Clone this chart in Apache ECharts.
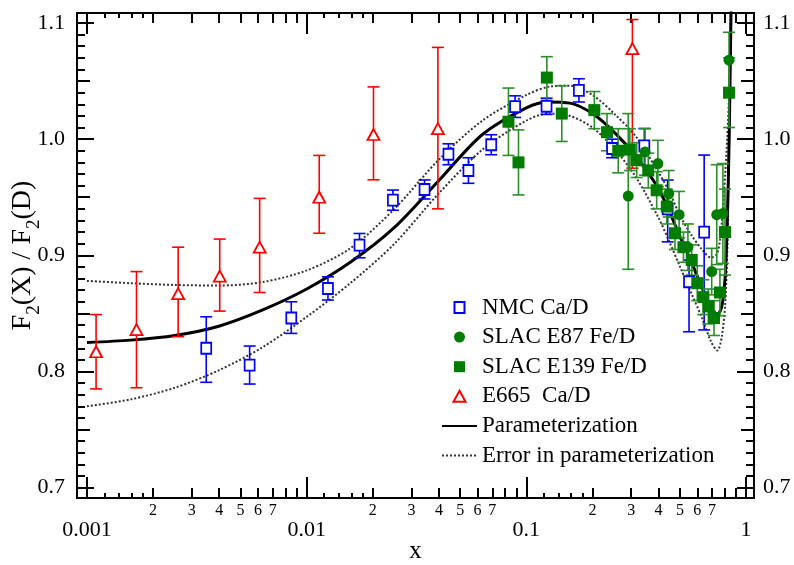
<!DOCTYPE html>
<html><head><meta charset="utf-8">
<script src="https://cdn.jsdelivr.net/npm/echarts@6/dist/echarts.min.js"></script>
<style>html,body{margin:0;padding:0;background:#fff}#c{width:794px;height:565px}</style>
</head><body><div id="c"></div>
<script>
// ---------- data (x in Bjorken x, y = F2(X)/F2(D)) ----------
const nmcX  = [0.00349, 0.0055, 0.00851, 0.0125, 0.0174, 0.0247, 0.0344, 0.0442, 0.0545, 0.0692, 0.0889, 0.1236, 0.1735, 0.2457, 0.3445, 0.44, 0.5504, 0.645];
const nmcY  = [0.820, 0.8055, 0.846, 0.8715, 0.9088, 0.9475, 0.9567, 0.9870, 0.9730, 0.9952, 1.0280, 1.0283, 1.0420, 0.9920, 0.9942, 0.9400, 0.8772, 0.9200];
const nmcLo = [0.7907, 0.7892, 0.8328, 0.8615, 0.8979, 0.9388, 0.9485, 0.9780, 0.9620, 0.9866, 1.0187, 1.0213, 1.0320, 0.9840, 0.9774, 0.9116, 0.8342, 0.8358];
const nmcHi = [0.8471, 0.8219, 0.8600, 0.8815, 0.9188, 0.9562, 0.9649, 0.9960, 0.9840, 1.0038, 1.0373, 1.0353, 1.0520, 1.0000, 1.0092, 0.9648, 0.8959, 0.9863];

const e87X  = [0.291, 0.347, 0.397, 0.445, 0.496, 0.544, 0.698, 0.736, 0.785, 0.837];
const e87Y  = [0.951, 0.989, 0.979, 0.953, 0.935, 0.907, 0.886, 0.935, 0.936, 1.068];
const e87Lo = [0.888, 0.969, 0.959, 0.933, 0.915, 0.887, 0.866, 0.892, 0.893, 1.044];
const e87Hi = [1.022, 1.009, 0.999, 0.973, 0.955, 0.927, 0.906, 0.978, 0.979, 1.092];

const e139X  = [0.0829, 0.0921, 0.124, 0.145, 0.204, 0.233, 0.262, 0.296, 0.318, 0.359, 0.392, 0.436, 0.475, 0.519, 0.566, 0.600, 0.639, 0.674, 0.715, 0.761, 0.8025, 0.837];
const e139Y  = [1.015, 0.980, 1.053, 1.022, 1.025, 1.006, 0.990, 0.991, 0.982, 0.973, 0.956, 0.942, 0.919, 0.907, 0.896, 0.876, 0.864, 0.856, 0.846, 0.868, 0.920, 1.040];
const e139Lo = [0.986, 0.952, 1.033, 0.998, 1.009, 0.990, 0.971, 0.973, 0.967, 0.958, 0.940, 0.927, 0.905, 0.894, 0.883, 0.861, 0.849, 0.841, 0.831, 0.848, 0.883, 1.010];
const e139Hi = [1.044, 1.008, 1.071, 1.046, 1.041, 1.022, 1.009, 1.009, 0.997, 0.988, 0.972, 0.957, 0.933, 0.920, 0.909, 0.891, 0.879, 0.871, 0.861, 0.888, 0.957, 1.070];

const e665X  = [0.0011, 0.00168, 0.0026, 0.00402, 0.00611, 0.01141, 0.02015, 0.03957, 0.304];
const e665Y  = [0.817, 0.836, 0.867, 0.882, 0.907, 0.950, 1.004, 1.009, 1.078];
const e665Lo = [0.785, 0.786, 0.830, 0.852, 0.868, 0.919, 0.965, 0.940, 0.975];
const e665Hi = [0.849, 0.886, 0.907, 0.914, 0.949, 0.986, 1.045, 1.079, 1.103];

// curves at these x positions
const curveX = [0.001, 0.00158, 0.00251, 0.00398, 0.00631, 0.01, 0.0158, 0.0251, 0.0398, 0.0631, 0.1, 0.126, 0.158, 0.2, 0.251, 0.316, 0.398, 0.447, 0.501, 0.562, 0.631, 0.692, 0.741, 0.776, 0.804, 0.822, 0.838, 0.851, 0.861];
const paramY = [0.825, 0.827, 0.831, 0.839, 0.853, 0.871, 0.894, 0.924, 0.964, 1.004, 1.027, 1.032, 1.031, 1.022, 1.006, 0.985, 0.958, 0.938, 0.916, 0.895, 0.872, 0.856, 0.849, 0.856, 0.882, 0.930, 1.000, 1.085, 1.150];
const upperY = [0.878, 0.876, 0.8745, 0.874, 0.877, 0.887, 0.906, 0.940, 0.982, 1.016, 1.038, 1.045, 1.046, 1.038, 1.022, 1.002, 0.972, 0.955, 0.934, 0.918, 0.905, 0.898, 0.902, 0.928, 0.970, 1.002, 1.040, 1.100, 1.150];
const lowerY = [0.770, 0.776, 0.786, 0.801, 0.821, 0.847, 0.876, 0.910, 0.953, 0.991, 1.016, 1.022, 1.020, 1.010, 0.992, 0.967, 0.933, 0.912, 0.890, 0.868, 0.846, 0.826, 0.818, 0.830, 0.858, 0.905, 1.000, 1.090, 1.150];

// ---------- ticks & labels ----------
const xMajorTicks  = [0.001, 0.01, 0.1, 1];
const xMajorLabels = ['0.001', '0.01', '0.1', '1'];
const xDecades     = [0.001, 0.01, 0.1];
const xMidMult     = [2, 3, 4, 5, 6, 7, 8, 9];
const xLabelMult   = [2, 3, 4, 5, 6, 7];
const xFineMult    = [1.2, 1.4, 1.6, 1.8];
const yMajorTicks  = [0.7, 0.8, 0.9, 1.0, 1.1];
const yMidTicks    = [0.75, 0.85, 0.95, 1.05];
const yMinorTicks  = [0.71,0.72,0.73,0.74,0.76,0.77,0.78,0.79,0.81,0.82,0.83,0.84,0.86,0.87,0.88,0.89,0.91,0.92,0.93,0.94,0.96,0.97,0.98,0.99,1.01,1.02,1.03,1.04,1.06,1.07,1.08,1.09];

const LG = v => Math.log10(v);
const X_MIN = -3.0455, X_MAX = 0.0364, Y_MIN = 0.6911, Y_MAX = 1.1086;
const FONT = 'Liberation Serif';

const xMid = [], xLab = [], xFine = [];
xDecades.forEach(d => {
  xMidMult.forEach(m => xMid.push(LG(m * d)));
  xLabelMult.forEach(m => xLab.push(LG(m * d)));
  xFineMult.forEach(m => xFine.push(LG(m * d)));
});

function xAx(position, ticks, len, label) {
  return {
    type: 'value', position, min: X_MIN, max: X_MAX,
    axisLine: { show: true, onZero: false, lineStyle: { color: '#000', width: 2 } },
    axisTick: { show: true, inside: true, length: len, customValues: ticks, lineStyle: { color: '#000', width: 2 } },
    axisLabel: label || { show: false },
    splitLine: { show: false }
  };
}
function yAx(position, ticks, len, label) {
  return {
    type: 'value', position, min: Y_MIN, max: Y_MAX,
    axisLine: { show: true, onZero: false, lineStyle: { color: '#000', width: 2 } },
    axisTick: { show: true, inside: true, length: len, customValues: ticks, lineStyle: { color: '#000', width: 2 } },
    axisLabel: label || { show: false },
    splitLine: { show: false }
  };
}
const majorXLabel = {
  show: true, customValues: xMajorTicks.map(LG), margin: 21,
  fontFamily: FONT, fontSize: 22, color: '#000',
  formatter: v => xMajorLabels[Math.round(v) + 3]
};
const midXLabel = {
  show: true, customValues: xLab, margin: 5,
  fontFamily: FONT, fontSize: 16, color: '#000',
  formatter: v => String(Math.round(Math.pow(10, v - Math.floor(v + 1e-9))))
};
const yLabel = (margin) => ({
  show: true, customValues: yMajorTicks, margin,
  fontFamily: FONT, fontSize: 22, color: '#000',
  formatter: v => v.toFixed(1)
});

const xAxes = [
  Object.assign(xAx('bottom', xMajorTicks.map(LG), 21, majorXLabel), {
    name: 'x', nameLocation: 'middle', nameGap: 41, nameMoveOverlap: false,
    nameTextStyle: { fontFamily: FONT, fontSize: 25, color: '#000' }
  }),
  xAx('bottom', xMid, 10, midXLabel),
  xAx('bottom', xFine, 5),
  xAx('top', xMajorTicks.map(LG), 21),
  xAx('top', xMid, 10),
  xAx('top', xFine, 5)
];
const yAxes = [
  Object.assign(yAx('left', yMajorTicks, 17, yLabel(12)), {
    name: 'F{s|2}(X) / F{s|2}(D)', nameLocation: 'middle', nameGap: 40, nameMoveOverlap: false,
    nameTextStyle: {
      fontFamily: FONT, fontSize: 28, color: '#000',
      rich: { s: { fontFamily: FONT, fontSize: 19, color: '#000', verticalAlign: 'bottom', lineHeight: 19, padding: [0, 0, -7, 0] } }
    }
  }),
  yAx('left', yMidTicks, 13),
  yAx('left', yMinorTicks, 8),
  yAx('right', yMajorTicks, 17, yLabel(9)),
  yAx('right', yMidTicks, 13),
  yAx('right', yMinorTicks, 8)
];

function errSeries(xs, lo, hi, color) {
  return {
    type: 'custom', silent: true, z: 3, clip: true,
    encode: { x: 0, y: [1, 2] },
    data: xs.map((x, i) => [LG(x), lo[i], hi[i]]),
    renderItem(params, api) {
      const xv = api.value(0);
      const a = api.coord([xv, api.value(1)]);
      const b = api.coord([xv, api.value(2)]);
      const hw = 6;
      const st = { stroke: color, lineWidth: 1.6, fill: null };
      return { type: 'group', children: [
        { type: 'line', shape: { x1: a[0], y1: a[1], x2: b[0], y2: b[1] }, style: st },
        { type: 'line', shape: { x1: a[0] - hw, y1: a[1], x2: a[0] + hw, y2: a[1] }, style: st },
        { type: 'line', shape: { x1: b[0] - hw, y1: b[1], x2: b[0] + hw, y2: b[1] }, style: st }
      ] };
    }
  };
}
const pts = (xs, ys) => xs.map((x, i) => [LG(x), ys[i]]);
const GREEN = '#007d00';
const GREEN_BAR = '#2a8f2a';
const NOSYM = { color: 'rgba(0,0,0,0)', borderColor: 'rgba(0,0,0,0)', borderWidth: 0 };

const option = {
  animation: false,
  backgroundColor: '#fff',
  grid: { left: 77, top: 13, width: 677, height: 485, containLabel: false, outerBoundsMode: 'none' },
  xAxis: xAxes,
  yAxis: yAxes,
  legend: {
    orient: 'vertical', left: 436, top: 291, itemWidth: 35, itemHeight: 11, itemGap: 6.6,
    selectedMode: false,
    textStyle: { fontFamily: FONT, fontSize: 23, color: '#000' },
    data: [
      { name: 'NMC Ca/D', icon: 'path://M0,0L10,0L10,11L0,11Z' },
      { name: 'SLAC E87 Fe/D' },
      { name: 'SLAC E139 Fe/D', icon: 'path://M0,0L11,0L11,11L0,11Z' },
      { name: 'E665  Ca/D', icon: 'path://M6,0L12,11L0,11Z' },
      { name: 'Parameterization' },
      { name: 'Error in parameterization' }
    ]
  },
  series: [
    { type: 'line', name: 'Error in parameterization', data: pts(curveX, upperY), symbol: 'none', smooth: 0.3, silent: true, z: 1,
      itemStyle: NOSYM, lineStyle: { color: '#333', width: 2, type: [2, 2] } },
    { type: 'line', name: 'Error in parameterization', data: pts(curveX, lowerY), symbol: 'none', smooth: 0.3, silent: true, z: 1,
      itemStyle: NOSYM, lineStyle: { color: '#333', width: 2, type: [2, 2] } },
    { type: 'line', name: 'Parameterization', data: pts(curveX, paramY), symbol: 'none', smooth: 0.3, silent: true, z: 2,
      itemStyle: NOSYM, lineStyle: { color: '#000', width: 3 } },
    errSeries(e665X, e665Lo, e665Hi, '#ff0000'),
    errSeries(nmcX, nmcLo, nmcHi, '#0000ff'),
    errSeries(e139X, e139Lo, e139Hi, GREEN_BAR),
    errSeries(e87X, e87Lo, e87Hi, GREEN_BAR),
    { type: 'scatter', name: 'E665  Ca/D', data: pts(e665X, e665Y), symbol: 'triangle', symbolSize: [12, 11], z: 4,
      itemStyle: { color: '#fff', borderColor: '#ff0000', borderWidth: 1.8, opacity: 1 } },
    { type: 'scatter', name: 'NMC Ca/D', data: pts(nmcX, nmcY), symbol: 'rect', symbolSize: [10, 11], z: 4,
      itemStyle: { color: '#fff', borderColor: '#0000ff', borderWidth: 1.8, opacity: 1 } },
    { type: 'scatter', name: 'SLAC E139 Fe/D', data: pts(e139X, e139Y), symbol: 'rect', symbolSize: 12, z: 5,
      itemStyle: { color: GREEN, opacity: 1 } },
    { type: 'scatter', name: 'SLAC E87 Fe/D', data: pts(e87X, e87Y), symbol: 'circle', symbolSize: 11, z: 5,
      itemStyle: { color: GREEN, opacity: 1 } }
  ]
};
const chart = echarts.init(document.getElementById('c'), null, { renderer: 'canvas' });
chart.setOption(option);
</script>
</body></html>
